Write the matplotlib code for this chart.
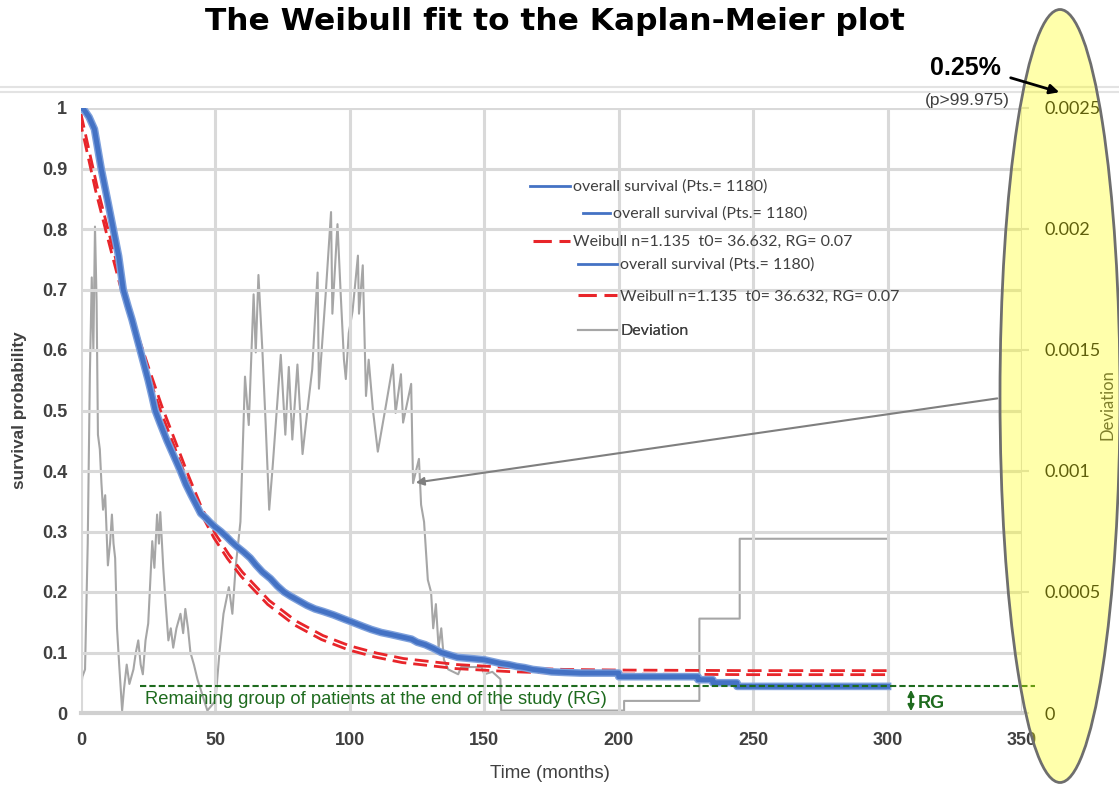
import matplotlib
matplotlib.use("Agg")
import matplotlib.pyplot as plt
from matplotlib.lines import Line2D
from matplotlib.patches import Ellipse, FancyArrowPatch
from matplotlib.transforms import offset_copy

# ---- data ----
# Kaplan-Meier overall survival (months, survival probability)
km_months = [0, 1, 3, 5, 7.5, 10, 12, 14, 15.7, 17.5, 19, 20.5, 22, 23.5, 25, 26.5, 27.6, 29.5,
             32, 34.5, 37, 39, 41, 43, 44.5, 46.5, 48, 50, 52, 54, 56, 58, 60.5, 63, 65, 67.5,
             70.5, 73, 75.5, 78, 80, 82, 84, 87, 90, 94, 98, 101, 105, 108, 111.7, 115, 118,
             121, 123, 125, 128, 131, 134, 137, 140, 145, 150, 153, 156, 159, 162, 165, 168,
             172, 175, 180, 186, 193, 200, 200, 229.5, 229.5, 235, 235, 244, 244, 300]
km_surv = [1.0, 0.998, 0.985, 0.965, 0.9, 0.845, 0.8, 0.755, 0.7, 0.672, 0.65, 0.625, 0.6, 0.575,
           0.55, 0.522, 0.5, 0.478, 0.45, 0.425, 0.4, 0.378, 0.36, 0.343, 0.33, 0.322, 0.315,
           0.307, 0.3, 0.292, 0.283, 0.275, 0.266, 0.256, 0.245, 0.233, 0.222, 0.21, 0.2, 0.193,
           0.188, 0.183, 0.178, 0.172, 0.168, 0.162, 0.155, 0.15, 0.143, 0.138, 0.133, 0.13,
           0.127, 0.124, 0.122, 0.117, 0.113, 0.107, 0.1, 0.096, 0.092, 0.09, 0.088, 0.085,
           0.082, 0.08, 0.077, 0.075, 0.072, 0.07, 0.068, 0.067, 0.066, 0.066, 0.066, 0.06,
           0.06, 0.055, 0.055, 0.05, 0.05, 0.044, 0.044]

# Weibull fit curve
wb_months = [0, 3, 6, 10, 15, 20, 25, 30, 35, 40, 45, 50, 55, 60, 70, 80, 90, 100, 110, 120,
             140, 160, 180, 200, 250, 300]
wb_surv = [0.99, 0.93, 0.87, 0.8, 0.715, 0.64, 0.573, 0.508, 0.45, 0.392, 0.338, 0.296,
           0.262, 0.233, 0.186, 0.152, 0.128, 0.111, 0.099, 0.09, 0.08, 0.075, 0.072, 0.071,
           0.07, 0.07]

# Deviation (secondary axis)
dev_months = [0, 0.5, 1.5, 2.5, 3.3, 4.0, 4.6, 5.2, 5.8, 6.3, 7, 7.6, 8.2, 9, 10, 10.8, 11.5, 12.1,
              12.7, 13.4, 14.2, 15.3, 16, 17, 18, 19.5, 20.4, 21.3, 22.2, 23, 24, 25, 26.5, 27.3,
              28.3, 29, 29.5, 30.6, 31.5, 32.5, 33.4, 34.3, 35.5, 37, 38, 38.8, 39.8, 40.7, 42,
              43.3, 45, 47, 48.5, 50, 51.5, 53, 55, 56.3, 57.5, 59.3, 61, 62.4, 64.2, 65, 66,
              67.5, 68.7, 70, 71.3, 74.3, 76, 77.3, 78.6, 80.5, 82.4, 84.2, 86, 88, 88.5, 91, 93,
              93.5, 95.4, 96.6, 97.8, 98.5, 99.6, 101, 103, 103.4, 104.8, 105.3, 106, 107, 108.6,
              110.4, 113.4, 116, 117, 119, 119.8, 122.8, 123.5, 125.7, 126.5, 127.6, 129, 130.2,
              131, 132, 133, 134, 135, 136.6, 140.3, 141.4, 149, 150, 153, 156, 156.3, 175, 202,
              202, 230, 230, 245, 245, 300]
dev_vals = [0.0001, 0.00015, 0.00018, 0.0007, 0.0014, 0.0018, 0.0015, 0.00201, 0.0017, 0.00115,
            0.00109, 0.00095, 0.00084, 0.0009, 0.00061, 0.0007, 0.00082, 0.0007, 0.00064,
            0.00035, 0.0002, 0.00001, 0.0001, 0.0002, 0.00012, 0.00018, 0.00025, 0.0003, 0.0002,
            0.00016, 0.0003, 0.00037, 0.00071, 0.0006, 0.00082, 0.0007, 0.00083, 0.0006, 0.00045,
            0.0003, 0.00035, 0.00027, 0.00035, 0.00041, 0.00033, 0.00043, 0.00035, 0.00025,
            0.0002, 0.00014, 0.00008, 0.00001, 0.00003, 0.00005, 0.00025, 0.00041, 0.00052,
            0.00041, 0.0006, 0.00079, 0.00139, 0.00119, 0.00173, 0.00149, 0.00181, 0.00149,
            0.00119, 0.00084, 0.00102, 0.00148, 0.00115, 0.00143, 0.00113, 0.00144, 0.00107,
            0.00125, 0.00142, 0.00182, 0.00134, 0.00173, 0.00207, 0.00165, 0.00202, 0.00173,
            0.00146, 0.00138, 0.00157, 0.00166, 0.00189, 0.00165, 0.00185, 0.00162, 0.00131,
            0.00146, 0.00125, 0.00108, 0.00127, 0.00144, 0.00124, 0.0014, 0.0012, 0.00136,
            0.00095, 0.00105, 0.00086, 0.00079, 0.00055, 0.0005, 0.00035, 0.00045, 0.00027,
            0.00035, 0.00022, 0.00018, 0.00016, 0.00019, 0.00019, 0.00016, 0.00017, 0.00014,
            0.00001, 0.00001, 0.00001, 0.00005, 0.00005, 0.00039, 0.00039, 0.00072, 0.00072]

rg_level = 0.044

x_ticks = [0, 50, 100, 150, 200, 250, 300, 350]
y_ticks = [0, 0.1, 0.2, 0.3, 0.4, 0.5, 0.6, 0.7, 0.8, 0.9, 1.0]
y_labels = ["0", "0.1", "0.2", "0.3", "0.4", "0.5", "0.6", "0.7", "0.8", "0.9", "1"]
dev_ticks = [0, 0.0005, 0.001, 0.0015, 0.002, 0.0025]
dev_labels = ["0", "0.0005", "0.001", "0.0015", "0.002", "0.0025"]

legend_labels = ["overall survival (Pts.= 1180)", "overall survival (Pts.= 1180)",
                 "Weibull n=1.135  t0= 36.632, RG= 0.07", "overall survival (Pts.= 1180)",
                 "Weibull n=1.135  t0= 36.632, RG= 0.07", "Deviation"]

BLUE = "#4472C4"
RED = "#E8252A"
GREY = "#A6A6A6"
GREEN = "#1E6B1E"
TXT = "#404040"

W, H = 1119, 791
fig = plt.figure(figsize=(W / 100, H / 100), dpi=100)


def fx(px):
    return px / W


def fy(py):
    return 1 - py / H


ax = fig.add_axes([fx(81), fy(713), fx(1022) - fx(81), fy(108) - fy(713)])
ax2 = ax.twinx()
ax.set_zorder(ax2.get_zorder() + 1)
ax.patch.set_visible(False)

# deviation on the secondary axis
ax2.plot(dev_months, dev_vals, color=GREY, lw=1.5)
ax2.set_ylim(0, 0.0025)
ax2.set_yticks(dev_ticks)
ax2.set_yticklabels(dev_labels, fontfamily="Lato")
ax2.tick_params(axis="y", length=5, color="#d9d9d9", width=1.5, pad=11, labelsize=13,
                labelcolor="#111111")
for s in ax2.spines.values():
    s.set_visible(False)

# survival curves
sh = offset_copy(ax.transData, fig=fig, x=-1.5, y=-4, units="dots")
ax.plot(wb_months, wb_surv, color=RED, lw=2, ls=(0, (5, 2.5)), transform=sh, zorder=3)
ax.plot(wb_months, wb_surv, color=RED, lw=2, ls=(0, (5, 2.5)), zorder=3)
ax.plot(km_months, km_surv, color="#7da0dc", lw=5.5, zorder=4)
ax.plot(km_months, km_surv, color=BLUE, lw=3.5, zorder=4)

ax.set_xlim(0, 350)
ax.set_ylim(0, 1)
ax.set_xticks(x_ticks)
ax.set_yticks(y_ticks)
ax.set_yticklabels(y_labels)
ax.grid(color="#d9d9d9", lw=2.2)
ax.set_axisbelow(True)
for s in ax.spines.values():
    s.set_visible(False)
ax.spines["bottom"].set_visible(True)
ax.spines["bottom"].set_color("#d0d0d0")
ax.spines["bottom"].set_linewidth(3)
ax.tick_params(length=0, labelsize=13, labelcolor=TXT)
ax.tick_params(axis="y", pad=10)
ax.tick_params(axis="x", pad=14)
for lab in ax.get_xticklabels() + ax.get_yticklabels():
    lab.set_fontweight("bold")
    lab.set_fontfamily("Liberation Sans")

# remaining group line
ax.axhline(rg_level, xmin=(140 - 81) / 941, xmax=(1035 - 81) / 941, color=GREEN, lw=1.5,
           ls=(0, (3, 1.5)), clip_on=False, zorder=5)
fig.text(fx(145), fy(700), "Remaining group of patients at the end of the study (RG)",
         color=GREEN, fontsize=13.2, fontfamily="Liberation Sans", va="center", ha="left")
fig.add_artist(FancyArrowPatch((fx(911), fy(687)), (fx(911), fy(714)),
                               transform=fig.transFigure, arrowstyle="<|-|>",
                               mutation_scale=9, color=GREEN, lw=1.5, zorder=6))
fig.text(fx(918), fy(703), "RG", color=GREEN, fontsize=13, fontweight="bold",
         fontfamily="Liberation Sans", va="center", ha="left")

# legend entries, scattered as in the source image
blue_h = Line2D([], [], color=BLUE, lw=2)
red_h = Line2D([], [], color=RED, lw=2.2, ls=(0, (6, 2.5)))
grey_h = Line2D([], [], color=GREY, lw=1.5)
handles = [blue_h, blue_h, red_h, blue_h, red_h, grey_h]
leg_pos = [(530, 187, 40), (583, 214, 27), (533, 242, 37), (578, 265, 39), (578, 297, 39),
           (578, 331, 39)]
fs_px = 11.5 * 100 / 72
for h, lab, (lx, ly, hl) in zip(handles, legend_labels, leg_pos):
    lg = ax.legend([h], [lab], loc="center left", bbox_to_anchor=(fx(lx), fy(ly)),
                   bbox_transform=fig.transFigure, frameon=False, borderpad=0,
                   borderaxespad=0, handlelength=hl / fs_px, handletextpad=0.2,
                   prop={"family": "Lato", "size": 11.5}, labelcolor=TXT)
    ax.add_artist(lg)

# texts
fig.text(fx(555), fy(22), "The Weibull fit to the Kaplan-Meier plot", ha="center", va="center",
         fontsize=22.5, fontweight="bold", fontfamily="DejaVu Sans", color="black")
fig.text(fx(20), fy(410), "survival probability", rotation=90, ha="center", va="center",
         fontsize=12.3, fontweight="bold", fontfamily="Liberation Sans", color=TXT)
fig.text(fx(550), fy(773), "Time (months)", ha="center", va="center", fontsize=13.5,
         fontfamily="Liberation Sans", color=TXT)
fig.text(fx(965), fy(68), "0.25%", ha="center", va="center", fontsize=18, fontweight="bold",
         fontfamily="Liberation Sans", color="black")
fig.text(fx(967), fy(100), "(p>99.975)", ha="center", va="center", fontsize=12.5,
         fontfamily="Liberation Sans", color=TXT)
fig.text(fx(1108), fy(405), "Deviation", rotation=90, ha="center", va="center", fontsize=12,
         fontfamily="Lato", color="#404040")

# slide band at the top of the chart
for yy in (87, 92):
    fig.add_artist(Line2D([0, 1], [fy(yy), fy(yy)], transform=fig.transFigure,
                          color="#e3e3e3", lw=1.5, zorder=0.5))

# highlight ellipse
fig.add_artist(Ellipse((fx(1060), fy(396)), 120 / W, 773 / H, transform=fig.transFigure,
                       facecolor="#ffff00", alpha=0.33, edgecolor="none", zorder=5))
fig.add_artist(Ellipse((fx(1060), fy(396)), 120 / W, 773 / H, transform=fig.transFigure,
                       facecolor="none", edgecolor="#6e6e6e", lw=2, zorder=6))

# arrows
fig.add_artist(FancyArrowPatch((fx(1008), fy(77)), (fx(1062), fy(93)),
                               transform=fig.transFigure, arrowstyle="-|>",
                               mutation_scale=14, color="black", lw=2, zorder=7))
fig.add_artist(FancyArrowPatch((fx(1000), fy(398)), (fx(413), fy(483)),
                               transform=fig.transFigure, arrowstyle="-|>",
                               mutation_scale=12, color="#7f7f7f", lw=1.5, zorder=7))

fig.savefig("out.png", dpi=100)
